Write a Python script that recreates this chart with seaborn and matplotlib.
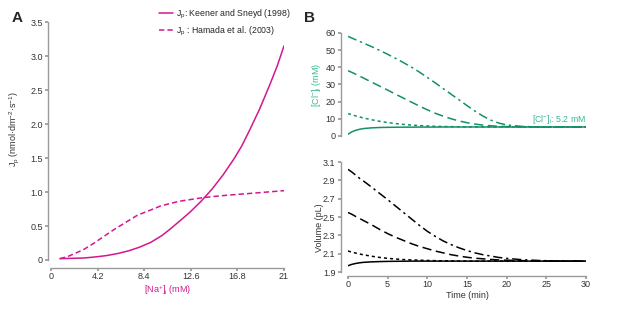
import numpy as np
import seaborn as sns
import matplotlib.pyplot as plt

# Painel A: fluxo da bomba vs [Na+]i
na_keener = [0.8, 2, 3, 4, 5, 6, 7, 8, 9, 10, 10.7, 11.5, 12.5, 13.5, 14.5, 15.5, 16.5, 17.2, 17.9, 18.8, 19.7, 20.4, 21]
jp_keener = [0.02, 0.025, 0.03, 0.045, 0.065, 0.095, 0.135, 0.19, 0.26, 0.36, 0.45, 0.56, 0.70, 0.86, 1.04, 1.25, 1.49, 1.68, 1.91, 2.22, 2.57, 2.86, 3.15]
na_hamada = [0.8, 1.5, 2.2, 2.9, 3.8, 4.7, 5.7, 6.8, 7.8, 8.9, 9.8, 10.7, 11.6, 12.6, 13.6, 14.7, 15.7, 16.8, 18, 19.5, 21]
jp_hamada = [0.02, 0.05, 0.10, 0.15, 0.24, 0.34, 0.45, 0.56, 0.66, 0.73, 0.79, 0.83, 0.865, 0.89, 0.915, 0.935, 0.95, 0.965, 0.98, 1.0, 1.02]

# Painel B: [Cl-]i e volume ao longo do tempo
tempo = [0, 0.5, 1, 1.5, 2, 3, 4, 5, 6, 7, 8, 9, 10, 11, 12, 13, 14, 15, 16, 17, 18, 19, 20, 22, 24, 26, 28, 30]
cl_dashdot = [58, 57, 56, 55, 54, 52, 49.8, 47.6, 45.2, 42.7, 40.1, 37.2, 34.1, 30.9, 27.6, 24.3, 21, 17.7, 14.5, 11.6, 9.2, 7.5, 6.4, 5.5, 5.25, 5.2, 5.2, 5.2]
cl_dashed = [38, 37, 35.9, 34.8, 33.6, 31.3, 29, 26.7, 24.3, 22, 19.7, 17.4, 15.2, 13.2, 11.5, 10, 8.7, 7.7, 6.9, 6.3, 5.9, 5.6, 5.45, 5.3, 5.2, 5.2, 5.2, 5.2]
cl_dotted = [13, 12.3, 11.6, 11, 10.4, 9.4, 8.5, 7.8, 7.2, 6.7, 6.3, 6.0, 5.8, 5.6, 5.5, 5.4, 5.35, 5.3, 5.25, 5.2, 5.2, 5.2, 5.2, 5.2, 5.2, 5.2, 5.2, 5.2]
cl_solid = [1, 2.4, 3.3, 3.9, 4.3, 4.7, 4.9, 5.0, 5.05, 5.1, 5.1, 5.15, 5.15, 5.15, 5.2, 5.2, 5.2, 5.2, 5.2, 5.2, 5.2, 5.2, 5.2, 5.2, 5.2, 5.2, 5.2, 5.2]

vol_dashdot = [3.02, 2.99, 2.955, 2.92, 2.89, 2.825, 2.757, 2.69, 2.62, 2.55, 2.48, 2.41, 2.345, 2.29, 2.24, 2.2, 2.165, 2.135, 2.11, 2.09, 2.075, 2.06, 2.05, 2.035, 2.027, 2.022, 2.02, 2.02]
vol_dashed = [2.55, 2.53, 2.505, 2.483, 2.46, 2.415, 2.365, 2.32, 2.28, 2.245, 2.21, 2.18, 2.155, 2.13, 2.11, 2.09, 2.075, 2.062, 2.052, 2.045, 2.038, 2.033, 2.03, 2.025, 2.022, 2.02, 2.02, 2.02]
vol_dotted = [2.13, 2.118, 2.107, 2.097, 2.088, 2.073, 2.06, 2.05, 2.043, 2.037, 2.033, 2.03, 2.027, 2.025, 2.023, 2.022, 2.021, 2.02, 2.02, 2.02, 2.02, 2.02, 2.02, 2.02, 2.02, 2.02, 2.02, 2.02]
vol_solid = [1.97, 1.985, 1.995, 2.002, 2.007, 2.012, 2.015, 2.017, 2.018, 2.019, 2.02, 2.02, 2.02, 2.02, 2.02, 2.02, 2.02, 2.02, 2.02, 2.02, 2.02, 2.02, 2.02, 2.02, 2.02, 2.02, 2.02, 2.02]

MAGENTA = "#d4168f"
VERDE = "#13906a"
VERDE_CLARO = "#3ab893"
CINZA = "#9a9a9a"
TEXTO = "#333333"
DASHDOT = (0, (6, 2.5, 1.5, 2.5))
DASHED = (0, (6, 3))
DOTTED = (0, (2, 2))

sns.set_theme(style="ticks", rc={
    "font.size": 6.5, "axes.labelsize": 6.5, "xtick.labelsize": 6.5, "ytick.labelsize": 6.5,
    "legend.fontsize": 6.3, "axes.edgecolor": CINZA, "xtick.color": CINZA,
    "ytick.color": CINZA, "xtick.labelcolor": TEXTO, "ytick.labelcolor": TEXTO,
    "xtick.major.size": 2, "ytick.major.size": 2, "axes.linewidth": 1.0,
    "xtick.major.pad": 0.8, "ytick.major.pad": 2, "axes.labelpad": 1.5,
    "mathtext.default": "regular",
})
plt.rcParams["font.family"] = ["Liberation Sans", "DejaVu Sans"]

fig = plt.figure(figsize=(6.17, 3.11), dpi=100)
axA = fig.add_axes([0.0827, 0.164, 0.3776, 0.765])
axB1 = fig.add_axes([0.564, 0.563, 0.3857, 0.331])
axB2 = fig.add_axes([0.564, 0.125, 0.3857, 0.354])

# --- A ---
sns.lineplot(x=na_keener, y=jp_keener, ax=axA, color=MAGENTA, lw=1.1,
             label="J$_p$: Keener and Sneyd (1998)")
sns.lineplot(x=na_hamada, y=jp_hamada, ax=axA, color=MAGENTA, lw=1.1,
             linestyle=(0, (3.5, 2)), label="J$_p$ : Hamada et al. (2003)")
axA.set_xlim(0, 21)
axA.set_ylim(0, 3.5)
axA.set_xticks([0, 4.2, 8.4, 12.6, 16.8, 21])
axA.set_xticklabels(["0", "4.2", "8.4", "12.6", "16.8", "21"])
axA.set_yticks(np.arange(0, 3.51, 0.5))
axA.set_yticklabels(["0", "0.5", "1.0", "1.5", "2.0", "2.5", "3.0", "3.5"])
axA.set_xlabel("[Na$^{+}$]$_i$ (mM)", color=MAGENTA)
axA.set_ylabel("J$_p$ (nmol·dm$^{-2}$·s$^{-1}$)", color=TEXTO)
axA.yaxis.set_label_coords(-0.13, 0.55)
axA.legend(loc="upper left", bbox_to_anchor=(0.465, 1.06), frameon=False,
           handlelength=1.6, handletextpad=0.3, labelspacing=0.45,
           borderaxespad=0, borderpad=0)
sns.despine(ax=axA)
axA.spines["bottom"].set_position(("outward", 6))
axA.spines["left"].set_position(("outward", 2))

# --- B topo ---
for serie, est in [(cl_dashdot, DASHDOT), (cl_dashed, DASHED),
                   (cl_dotted, DOTTED), (cl_solid, "-")]:
    sns.lineplot(x=tempo, y=serie, ax=axB1, color=VERDE, lw=1.1, linestyle=est)
axB1.set_xlim(0, 30)
axB1.set_ylim(0, 60)
axB1.set_yticks(range(0, 61, 10))
axB1.set_xticks([])
axB1.set_ylabel("[Cl$^{-}$]$_i$ (mM)", color=VERDE_CLARO)
axB1.text(30, 8.0, "[Cl$^{-}$]$_i$: 5.2 mM", color=VERDE_CLARO, fontsize=6.3, ha="right")
sns.despine(ax=axB1, bottom=True)
axB1.spines["left"].set_position(("outward", 5))

# --- B base ---
for serie, est in [(vol_dashdot, DASHDOT), (vol_dashed, DASHED),
                   (vol_dotted, DOTTED), (vol_solid, "-")]:
    sns.lineplot(x=tempo, y=serie, ax=axB2, color="black", lw=1.1, linestyle=est)
axB2.set_xlim(0, 30)
axB2.set_ylim(1.9, 3.1)
axB2.set_yticks([1.9, 2.1, 2.3, 2.5, 2.7, 2.9, 3.1])
axB2.set_yticklabels(["1.9", "2.1", "2.3", "2.5", "2.7", "2.9", "3.1"])
axB2.set_xticks(range(0, 31, 5))
axB2.set_xlabel("Time (min)", color=TEXTO)
axB2.set_ylabel("Volume (pL)", color=TEXTO)
axB2.yaxis.set_label_coords(-0.1, 0.4)
sns.despine(ax=axB2)
axB2.spines["bottom"].set_position(("outward", 3))
axB2.spines["left"].set_position(("outward", 5))

fig.text(12 / 617, 1 - 18 / 311, "A", fontsize=11, fontweight="bold", va="center")
fig.text(304 / 617, 1 - 18 / 311, "B", fontsize=11, fontweight="bold", va="center")

fig.savefig("out.png", dpi=100)
